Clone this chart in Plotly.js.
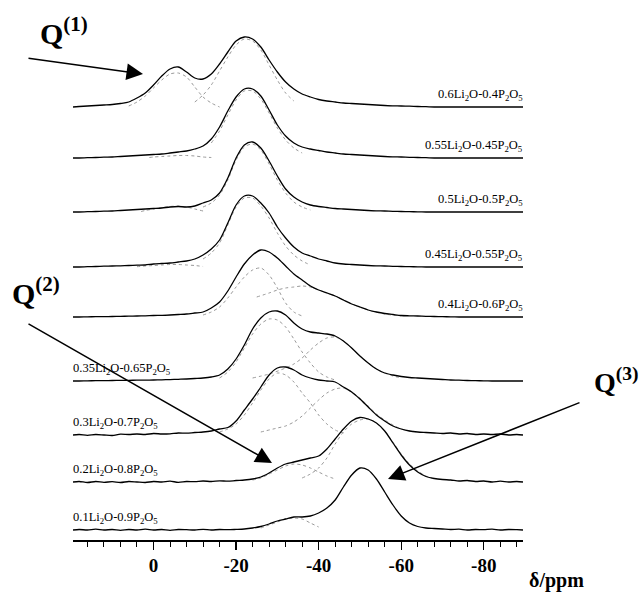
<!DOCTYPE html>
<html>
<head>
<meta charset="utf-8">
<script src="https://cdn.plot.ly/plotly-3.0.1.min.js"></script>
<style>html,body{margin:0;padding:0;background:#fff;}#chart{width:643px;height:592px;}</style>
</head>
<body>
<div id="chart"></div>
<script>
// ---- shared chemical-shift grid (ppm) ----
const ppm = [19.5, 18, 16, 14, 12, 10, 8, 6, 4, 2, 0, -2, -4, -6, -8, -10, -12, -14, -16, -18, -20, -22, -24, -26, -28, -30, -32, -34, -36, -38, -40, -42, -44, -46, -48, -50, -52, -54, -56, -58, -60, -62, -64, -66, -68, -70, -72, -74, -76, -78, -80, -82, -84, -86, -88, -89.5];

// ---- sample labels (top to bottom) ----
const compositions = [
  "0.6Li<sub>2</sub>O-0.4P<sub>2</sub>O<sub>5</sub>",
  "0.55Li<sub>2</sub>O-0.45P<sub>2</sub>O<sub>5</sub>",
  "0.5Li<sub>2</sub>O-0.5P<sub>2</sub>O<sub>5</sub>",
  "0.45Li<sub>2</sub>O-0.55P<sub>2</sub>O<sub>5</sub>",
  "0.4Li<sub>2</sub>O-0.6P<sub>2</sub>O<sub>5</sub>",
  "0.35Li<sub>2</sub>O-0.65P<sub>2</sub>O<sub>5</sub>",
  "0.3Li<sub>2</sub>O-0.7P<sub>2</sub>O<sub>5</sub>",
  "0.2Li<sub>2</sub>O-0.8P<sub>2</sub>O<sub>5</sub>",
  "0.1Li<sub>2</sub>O-0.9P<sub>2</sub>O<sub>5</sub>"
];
// vertical stacking baseline of each spectrum
const offsets = [433, 382, 328, 273, 223, 159, 105, 58, 10];

// ---- x-axis tick labels ----
const tickValues = [0, -20, -40, -60, -80];
const tickLabels = ['0', '-20', '-40', '-60', '-80'];

// ---- measured spectra (intensity on ppm grid) ----
const s060 = [0,0.5,1,1.5,2,2.5,3.5,5,9,14,22,31,38,40,35,29,28,33,43,55,66,70,68,60,47,35,25,18,13,10,7.5,6,5,4,3.5,3,2.5,2,1.5,1.2,1,0.8,0.5,0.3,0,0,0,0,0,0,0,0,0,0,0,0];
const s055 = [0,0,0.3,0.5,0.8,1,1.5,2,2.5,3,3.5,4,5,6,7,9,12,19,31,47,61,69,69,62,48,33,22,15,11,9,7.5,6,5,4,3.5,3,2.5,2,1.5,1.2,1,0.7,0.5,0.3,0,0,0,0,0,0,0,0,0,0,0,0];
const s050 = [0,0,0.3,0.5,0.8,1,1.5,2,2.5,3,3.5,4,5,5.5,5,6,9,12,19,34,54,67,70,64,51,36,23,15,10,7,5.5,4.5,3.5,3,2.5,2,1.5,1.2,1,0.7,0.5,0.3,0.2,0,0,0,0,0,0,0,0,0,0,0,0,0];
const s045 = [0,0,0.3,0.5,0.8,1,1.2,1.5,1.8,2,3,3.5,4,5,6,8,12,18,27,44,62,71,71,64,54,40,29,20,14,11,8,6,4,3,2.5,2,1.5,1.2,1,0.7,0.5,0.3,0.2,0,0,0,0,0,0,0,0,0,0,0,0,0];
const s040 = [0,0,0.2,0.3,0.4,0.5,0.7,0.8,1,1.2,1.5,1.7,2,2.5,3,4,5,9,15,26,40,53,62,67,65,59,51,43,37,31,27,24,21,17,13,10,7,5,3.5,2.5,1.5,1.2,1,0.7,0.5,0.3,0.2,0,0,0,0,0,0,0,0,0];
const s035 = [0,0,0.2,0.3,0.4,0.5,0.6,0.7,0.8,0.9,1,1.2,1.4,1.7,2,2.5,3,4,6,12,22,36,52,63,69,70,66,58,52,49,48,47,45,40,33,25,18,12,8,6,4.5,3.5,3,2.5,2,1.5,1,0.8,0.5,0.3,0.2,0,0,0,0,0];
const s030 = [0,0.5,-0.3,0.5,0,-0.5,0.8,0.5,1,0.5,1.5,1,1.2,2,1.8,2.5,3,4,6,7.5,14,25,36,48,60,67,68,65,60,57,55,54,53,48,43,36,28,20,14,9,6,4,3,2.5,2,1.5,2,1,1.5,0.5,1,0.5,1,0,0.5,0];
const s020 = [0,0.5,-0.5,0.5,-0.3,0.3,-0.5,0.5,0,-0.5,0.5,0,0.8,-0.3,0.5,0.3,1,0.5,1.2,0.8,1.5,2,3,5,9,14,18,20,22,24,26,33,43,53,61,64.5,63,59,51,39,27,17,10,5.5,3.5,2.5,2,1,1.5,0.5,1,0,0.8,0,0.5,0];
const s010 = [0,0.5,0,0.8,0,0.5,-0.3,0.5,0,0.8,0,0.5,-0.3,0.5,0.3,0,0.6,0,0.5,0.3,0.6,1,2,3.5,6,9,11,13,13,14,17,22,30,43,55,62,60,51,38,25,14,7,3.5,2,1.5,1,0.5,0.8,0,0.5,0.3,0.8,0,0.5,0.3,0];

// ---- fitted components (dotted grey) ----
const f060_q1_ppm = [6,4,2,0,-2,-4,-6,-8,-10,-12,-14,-16];
const f060_q1     = [1,5,11,19,27,33,34,30,20,10,4,0];
const f060_q2_ppm = [-10,-12,-14,-16,-18,-20,-22,-24,-26,-28,-30,-32,-34];
const f060_q2     = [5,12,22,36,50,62,68,66,57,42,27,14,6];
const f055_q1_ppm = [1,0,-2,-4,-6,-8,-10,-12,-14];
const f055_q1     = [0.5,1,1.5,2,2.5,2.5,2,1,0.5];
const f055_q2_ppm = [-14,-16,-18,-20,-22,-24,-26,-28,-30,-32,-34,-36];
const f055_q2     = [15,27,43,58,67,67,59,45,30,18,10,5];
const f050_q1_ppm = [3,2,0,-2,-4,-6,-8,-10,-12];
const f050_q1     = [0.5,1.5,3,4.5,5.5,6,5,3,1];
const f050_q2_ppm = [-12,-14,-16,-18,-20,-22,-24,-26,-28,-30,-32,-34,-36,-38];
const f050_q2     = [5,9,17,32,52,65,68,62,48,32,19,10,5,2];
const f045_q1_ppm = [4,2,0,-2,-4,-6,-8,-10,-12];
const f045_q1     = [0.3,1,1.5,2,2.5,2.5,2,1.5,0.5];
const f045_q2_ppm = [-12,-14,-16,-18,-20,-22,-24,-26,-28,-30,-32,-34,-36,-38];
const f045_q2     = [8,14,24,42,60,69,69,61,49,34,21,12,6,2];
const f040_q2_ppm = [-12,-14,-16,-18,-20,-22,-24,-26,-28,-30,-32,-34,-36];
const f040_q2     = [2,5,10,19,30,40,47,49,42,29,14,5,1];
const f040_q3_ppm = [-25,-28,-30,-32,-34,-36,-38,-40,-44,-48,-52,-56,-60];
const f040_q3     = [20,24,27,29,30,31,30,27,21,13,7,3,1];
const f035_q2_ppm = [-16,-18,-20,-22,-24,-26,-28,-30,-32,-34,-36,-38,-40,-42,-44];
const f035_q2     = [3,9,19,33,47,57,62,61,54,42,29,18,9,4,1];
const f035_q3_ppm = [-24,-28,-32,-34,-36,-38,-40,-42,-44,-46,-48,-50,-52,-54,-56,-58,-60];
const f035_q3     = [3,7,13,17,23,31,38,43,44,40,33,25,18,12,8,5,3];
const f030_q2_ppm = [-16,-18,-20,-22,-24,-26,-28,-30,-32,-34,-36,-38,-40,-42,-44,-46];
const f030_q2     = [3,6,11,20,32,45,56,62,60,53,42,32,20,11,5,2];
const f030_q3_ppm = [-26,-30,-32,-34,-36,-38,-40,-42,-44,-46,-48,-50,-52,-54,-56,-58,-60,-64];
const f030_q3     = [3,7,9,13,19,27,35,42,46,47,43,37,29,21,15,10,6,3];
const f020_q2_ppm = [-24,-26,-28,-30,-32,-34,-36,-38,-40,-42,-44];
const f020_q2     = [2,4,8,12,16,18,17,14,10,6,3];
const f020_q3_ppm = [-36,-38,-40,-42,-44,-46,-48,-50,-52,-54,-56,-58,-60,-62,-64,-66,-68];
const f020_q3     = [4,8,14,24,38,50,58,62,63,59,51,40,28,18,11,6,3];
const f010_q2_ppm = [-26,-28,-30,-32,-34,-36,-38,-40];
const f010_q2     = [2,5,8,11,12,11,7,3];

const spectra = [s060, s055, s050, s045, s040, s035, s030, s020, s010];
const fits = [
  [0, f060_q1_ppm, f060_q1], [0, f060_q2_ppm, f060_q2],
  [1, f055_q1_ppm, f055_q1], [1, f055_q2_ppm, f055_q2],
  [2, f050_q1_ppm, f050_q1], [2, f050_q2_ppm, f050_q2],
  [3, f045_q1_ppm, f045_q1], [3, f045_q2_ppm, f045_q2],
  [4, f040_q2_ppm, f040_q2], [4, f040_q3_ppm, f040_q3],
  [5, f035_q2_ppm, f035_q2], [5, f035_q3_ppm, f035_q3],
  [6, f030_q2_ppm, f030_q2], [6, f030_q3_ppm, f030_q3],
  [7, f020_q2_ppm, f020_q2], [7, f020_q3_ppm, f020_q3],
  [8, f010_q2_ppm, f010_q2]
];

const traces = [];
fits.forEach(function (f) {
  traces.push({
    x: f[1], y: f[2].map(function (v) { return v + offsets[f[0]]; }),
    type: 'scatter', mode: 'lines', hoverinfo: 'skip',
    line: { color: '#9a9a9a', width: 1, dash: 'dot', shape: 'spline', smoothing: 0.8 }
  });
});
spectra.forEach(function (s, i) {
  traces.push({
    x: ppm, y: s.map(function (v) { return v + offsets[i]; }),
    type: 'scatter', mode: 'lines', hoverinfo: 'skip',
    line: { color: '#000', width: 1.3, shape: 'spline', smoothing: 0.8 }
  });
});

// layout helpers (pixel -> paper), plot area: x 73..523, y 20..540
const L = 73, W = 450, B = 540, H = 520;
function px(x) { return (x - L) / W; }
function py(y) { return (B - y) / H; }

const serif = 'Liberation Serif';
const annotations = [];
compositions.forEach(function (c, i) {
  const right = i < 5;
  annotations.push({
    text: c, xref: 'paper', yref: 'y',
    x: right ? px(525) : px(71), y: offsets[i] + 2,
    xanchor: right ? 'right' : 'left', yanchor: 'bottom',
    showarrow: false, font: { family: serif, size: 12.5, color: '#000' }
  });
});
const qfont = { family: serif, size: 30, color: '#000', weight: 'bold' };
annotations.push({ text: 'Q<sup>(1)</sup>', xref: 'paper', yref: 'paper', x: px(38), y: py(31), xanchor: 'left', yanchor: 'middle', showarrow: false, font: qfont });
annotations.push({ text: 'Q<sup>(2)</sup>', xref: 'paper', yref: 'paper', x: px(10), y: py(291), xanchor: 'left', yanchor: 'middle', showarrow: false, font: qfont });
annotations.push({ text: 'Q<sup>(3)</sup>', xref: 'paper', yref: 'paper', x: px(592), y: py(380), xanchor: 'left', yanchor: 'middle', showarrow: false, font: { family: serif, size: 28, color: '#000', weight: 'bold' } });
annotations.push({ text: 'δ/ppm', xref: 'paper', yref: 'paper', x: px(556), y: py(580), xanchor: 'center', yanchor: 'middle', showarrow: false, font: { family: serif, size: 20, color: '#000', weight: 'bold' } });
// arrows
function arrow(tx, ty, sx, sy) {
  return { text: '', xref: 'paper', yref: 'paper', x: px(tx), y: py(ty), ax: sx - tx, ay: sy - ty,
    showarrow: true, arrowhead: 2, arrowsize: 2.2, arrowwidth: 1.5, arrowcolor: '#000', standoff: 0, startstandoff: 0 };
}
annotations.push(arrow(143, 74, 27, 58));
annotations.push(arrow(272, 463, 27, 323));
annotations.push(arrow(388, 479, 581, 402));

const layout = {
  width: 643, height: 592,
  margin: { l: 73, r: 120, t: 20, b: 52 },
  paper_bgcolor: '#fff', plot_bgcolor: '#fff',
  showlegend: false,
  xaxis: {
    range: [19.5, -89.5], showgrid: false, zeroline: false,
    showline: true, linecolor: '#000', linewidth: 1.5,
    ticks: 'outside', ticklen: 8, tickwidth: 1.3, tickcolor: '#000',
    tickmode: 'array', tickvals: tickValues, ticktext: tickLabels,
    tickfont: { family: serif, size: 19, color: '#000', weight: 'bold' },
    minor: { tickmode: 'linear', tick0: 0, dtick: 4, ticks: 'outside', ticklen: 5, tickwidth: 1, tickcolor: '#000', showgrid: false },
    fixedrange: true
  },
  yaxis: { range: [0, 520], visible: false, showgrid: false, zeroline: false, fixedrange: true },
  annotations: annotations
};

Plotly.newPlot('chart', traces, layout, { staticPlot: true, displayModeBar: false });
</script>
</body>
</html>
